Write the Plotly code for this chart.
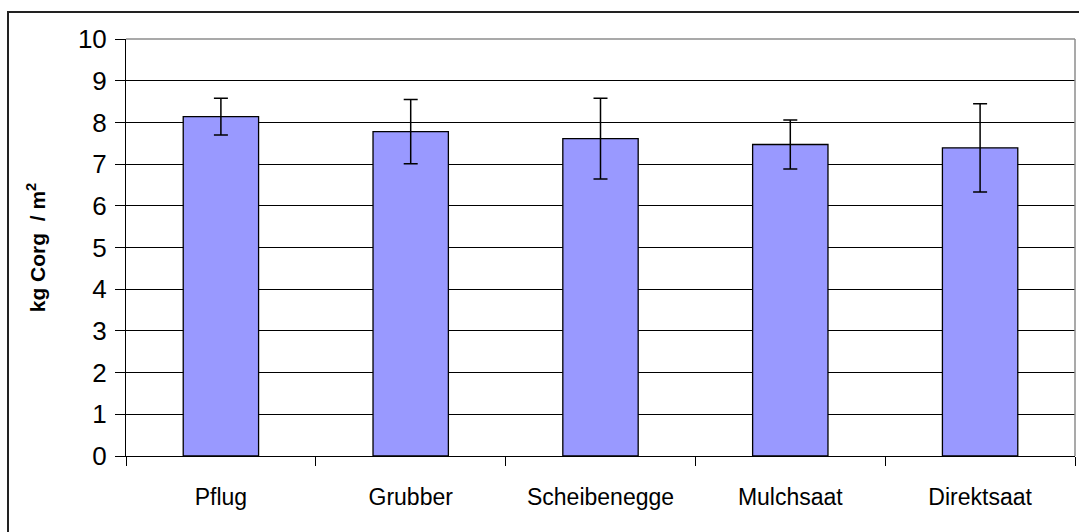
import plotly.graph_objects as go

categories = ["Pflug", "Grubber", "Scheibenegge", "Mulchsaat", "Direktsaat"]
values = [8.14, 7.78, 7.61, 7.47, 7.39]
errors = [0.44, 0.77, 0.97, 0.59, 1.06]
y_ticks = list(range(0, 11))

W, H = 1079, 532
ml, mr, mt, mb = 126, 4, 39, 76
pw = W - ml - mr
ph = H - mt - mb

fig = go.Figure()
fig.add_trace(go.Bar(
    x=categories, y=values,
    width=0.397,
    marker=dict(color="#9999FF", line=dict(color="black", width=1.3)),
    error_y=dict(type="data", array=errors, visible=True,
                 color="black", thickness=1.5, width=7),
))

fig.update_layout(
    width=W, height=H,
    margin=dict(l=ml, r=mr, t=mt, b=mb),
    paper_bgcolor="white", plot_bgcolor="white",
    showlegend=False,
    font=dict(family="Liberation Sans, Arial, sans-serif", color="black"),
)
fig.update_xaxes(
    type="category", tickson="boundaries", ticks="outside", ticklen=9,
    tickcolor="black", tickwidth=1,
    showline=True, linecolor="black", linewidth=1,
    showgrid=False, tickfont=dict(size=23), ticklabelstandoff=20,
    range=[-0.5, 4.5],
)
fig.update_yaxes(
    range=[0, 10], tickvals=y_ticks, ticks="outside", ticklen=10,
    tickcolor="black", tickwidth=1,
    showline=True, linecolor="black", linewidth=1,
    showgrid=True, gridcolor="black", gridwidth=1,
    zeroline=False, tickfont=dict(size=26), ticklabelstandoff=3,
    title=dict(text="<b>kg Corg  / m<sup>2</sup></b>", font=dict(size=21), standoff=26),
)
# plot area border (gray, top and right)
fig.add_shape(type="line", xref="paper", yref="paper", x0=0, x1=1, y0=1, y1=1,
              line=dict(color="#8c8c8c", width=1.5))
fig.add_shape(type="line", xref="paper", yref="paper", x0=1, x1=1, y0=0, y1=1,
              line=dict(color="#8c8c8c", width=1.5))
# outer chart frame
fx0 = (8 - ml) / pw
fx1 = (W + 5 - ml) / pw
fy1 = (H - 12 - mb) / ph
fy0 = (-10 - mb) / ph
fig.add_shape(type="rect", xref="paper", yref="paper", x0=fx0, x1=fx1, y0=fy0, y1=fy1,
              line=dict(color="#222222", width=2))

fig.write_html("out.html", config={"displayModeBar": False},
               post_script="document.body.style.margin='0';document.body.style.overflow='hidden';")
